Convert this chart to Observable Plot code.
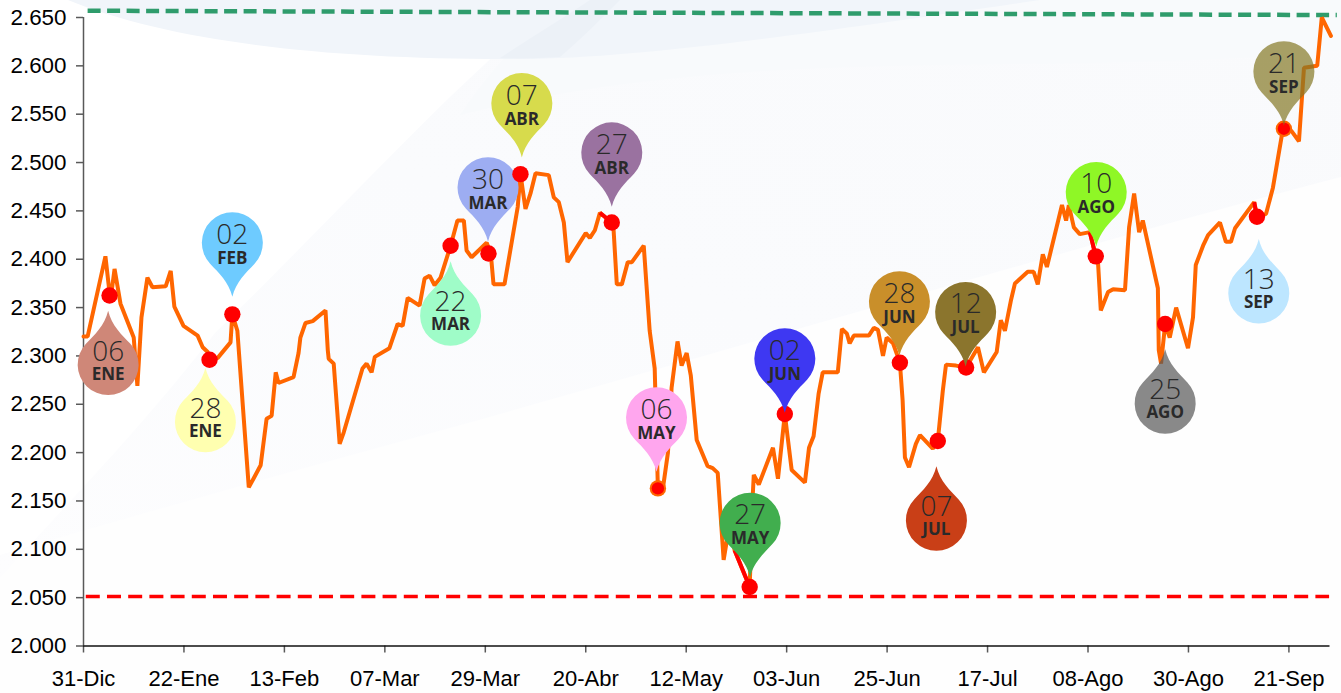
<!DOCTYPE html>
<html>
<head>
<meta charset="utf-8">
<script src="https://cdn.jsdelivr.net/npm/d3@7"></script>
<script src="https://cdn.jsdelivr.net/npm/@observablehq/plot@0.6"></script>
<style>
html,body{margin:0;padding:0;background:#fff;overflow:hidden}
#chart{position:relative;width:1341px;height:693px;
background-repeat:no-repeat;background-size:1341px 693px}
#chart svg{position:absolute;left:0;top:0;background:transparent}
</style>
</head>
<body>
<div id="chart"></div>
<script>
// Days elapsed since 31-Dic, and the exchange rate (thousands) on each vertex
const seriesDays = [0,0.9,4.8,5.9,6.8,8.1,11,11.8,12.7,14,15.1,18,19.1,19.9,21.9,25,26.1,27.2,27.6,29.4,32.2,32.6,33.7,36.2,38.8,40.1,41.2,42.1,42.7,46,47.1,47.5,48.6,50.2,53,53.5,53.7,54.8,56.1,57,61.1,62,63.1,63.8,67,68.8,69.9,71,73.6,74.7,75.8,76.9,78.2,80.4,81.9,83.3,83.9,85,88.3,89.2,89.8,92.2,95.1,95.7,96.8,97.9,99,101.9,103,104.1,105.2,106,110,110.9,112,113.1,115.7,116.1,116.8,117.9,119.2,120.1,122.7,124,125.1,125.8,126.9,128,128.8,130.1,131,132.1,133,134.3,136.7,137.8,138.9,140.2,140.9,141.8,142.6,145.9,146.6,146.8,147.9,151,152.1,153.6,155.1,158,158.9,159.9,161,161.9,165.2,166.1,167.2,167.8,168.7,172,173.1,174,175.1,175.9,177.3,178.8,179.4,179.9,180.8,182.3,183.2,186,187.1,188.2,188.9,191.1,193.3,195.9,197.2,200,200.9,201.8,203.1,204,206.8,208.1,209,210.1,211,214.3,215.2,215.8,216.9,218.2,220.4,221.7,222.2,222.8,224.4,225.5,228.1,229,230.1,231.2,232,235.3,235.5,236,236.9,237.9,239.3,241.9,243,243.6,245.2,246.3,248.9,250.2,251.3,252.2,256.4,257,259,260.5,262.7,264.5,266.2,267.3,270.2,271.2,273.2];
const seriesValues = [2.320,2.320,2.403,2.357,2.390,2.354,2.319,2.269,2.340,2.381,2.371,2.372,2.388,2.351,2.331,2.321,2.309,2.304,2.295,2.298,2.314,2.343,2.326,2.164,2.187,2.235,2.238,2.283,2.272,2.278,2.303,2.319,2.334,2.336,2.347,2.306,2.297,2.292,2.209,2.221,2.287,2.292,2.283,2.299,2.308,2.333,2.331,2.360,2.352,2.380,2.383,2.373,2.381,2.414,2.440,2.440,2.409,2.402,2.417,2.406,2.374,2.374,2.454,2.488,2.452,2.468,2.489,2.487,2.464,2.459,2.438,2.397,2.427,2.422,2.430,2.448,2.438,2.430,2.374,2.374,2.397,2.397,2.414,2.326,2.287,2.163,2.163,2.200,2.267,2.315,2.290,2.303,2.280,2.213,2.186,2.184,2.179,2.089,2.109,2.120,2.099,2.061,2.158,2.177,2.167,2.205,2.173,2.240,2.182,2.169,2.205,2.217,2.261,2.283,2.283,2.328,2.323,2.313,2.321,2.321,2.329,2.327,2.300,2.319,2.313,2.293,2.254,2.195,2.185,2.209,2.218,2.204,2.212,2.264,2.291,2.290,2.288,2.309,2.283,2.304,2.337,2.326,2.357,2.375,2.387,2.387,2.374,2.405,2.392,2.456,2.440,2.456,2.433,2.426,2.428,2.403,2.396,2.347,2.366,2.369,2.368,2.433,2.468,2.428,2.440,2.370,2.306,2.292,2.333,2.319,2.350,2.308,2.340,2.394,2.414,2.425,2.438,2.418,2.418,2.432,2.459,2.444,2.447,2.474,2.535,2.533,2.522,2.598,2.600,2.650,2.631];

// The days on which the segment arriving at a highlighted point is red
const redSegmentEnds = [115.7,145.9,221.7,257];

// Highlighted points
const pinDays  = ["06","28","02","22","30","07","27","06","27","02","28","07","12","10","25","13","21"];
const pinMonths = ["ENE","ENE","FEB","MAR","MAR","ABR","ABR","MAY","MAY","JUN","JUN","JUL","JUL","AGO","AGO","SEP","SEP"];
const pointDays   = [5.7,27.6,32.6,80.4,88.7,95.7,115.7,125.8,145.9,153.6,178.8,187.1,193.3,221.7,236.9,257,262.9];
const pointValues = [2.3625,2.296,2.343,2.414,2.406,2.488,2.438,2.163,2.061,2.240,2.293,2.212,2.288,2.403,2.333,2.444,2.535];
const ringed = ["06 MAY","21 SEP"];

// Balloons
const pinX = [5.4,26.7,32.6,80.4,88.6,96,115.7,125.5,146,153.6,178.7,186.8,193.2,221.8,236.9,257.4,262.9];
const pinY = [2.291,2.232,2.417,2.342,2.474,2.561,2.510,2.236,2.127,2.297,2.356,2.130,2.345,2.469,2.251,2.365,2.594];
const pinPoints = ["up","up","down","up","down","down","down","down","down","down","down","up","down","down","up","up","down"];
const pinColors = ["#cf8778","#ffffb0","#6ecbff","#9ffcc8","#9dadf2","#d7db4c","#9a72a0","#ffa6ee","#41ae4e","#3e38f2","#c98f2a","#c93f17","#8b752d","#8ff726","#575757","#bde6ff","#857725"];
const pinOpacity = [1,1,1,1,1,1,1,1,1,1,1,1,1,1,.7,1,.7];

// Max and min reference lines
const maxDays = [0.9,274.5], maxValues = [2.657,2.6525];
const minDays = [0.5,272.8], minValue = 2.0512;

// Axes
const tickDays = [0,22,44,66,88,110,132,154,176,198,220,242,264];
const tickLabels = ["31-Dic","22-Ene","13-Feb","07-Mar","29-Mar","20-Abr","12-May","03-Jun","25-Jun","17-Jul","08-Ago","30-Ago","21-Sep"];
const yTicks = [2,2.05,2.1,2.15,2.2,2.25,2.3,2.35,2.4,2.45,2.5,2.55,2.6,2.65];

const series = seriesDays.map((d,i)=>({d,v:seriesValues[i]}));
const redSegments = redSegmentEnds.map(e=>{
  const i = seriesDays.indexOf(e);
  return {x1:seriesDays[i-1],y1:seriesValues[i-1],x2:e,y2:seriesValues[i]};
});
const pins = pinDays.map((day,i)=>({
  day, month:pinMonths[i], key:day+" "+pinMonths[i],
  px:pointDays[i], py:pointValues[i],
  x:pinX[i], y:pinY[i], dir:pinPoints[i], color:pinColors[i], op:pinOpacity[i]
}));

// Balloon outline: a round head that narrows into a point
function drop(sign){
  return {draw(c,size){
    const r=Math.sqrt(size/Math.PI), t=54*sign, s=sign;
    const a=Math.PI*0.24;
    const jx=r*Math.cos(a), jy=r*Math.sin(a)*s;
    c.moveTo(0,t);
    c.bezierCurveTo(-3.5,t-15*s,-jx*0.62,jy+9*s,-jx,jy);
    c.arc(0,0,r,s>0?Math.PI-a:Math.PI+a,s>0?2*Math.PI+a:-a,s<0);
    c.bezierCurveTo(jx*0.62,jy+9*s,3.5,t-15*s,0,t);
    c.closePath();
  }};
}
const pinMark = (data,dir)=>Plot.dot(data.filter(p=>p.dir===dir),{
  x:"x",y:"y",r:30.5,symbol:drop(dir==="down"?1:-1),
  fill:"color",fillOpacity:"op",stroke:"none"
});
const labelOpts = (dy,font,size,weight,text)=>({
  x:"x",y:"y",text,dy,fontFamily:font,fontSize:size,fontWeight:weight,fill:"#2a2a2a",textAnchor:"middle",lineAnchor:"middle"
});
const FONT='"Open Sans"';
const bg = `<svg xmlns="http://www.w3.org/2000/svg" width="1341" height="693">
<defs><linearGradient id="w" x1="0" y1="1" x2="1" y2="0"><stop offset="0" stop-color="#fdfdfe"/><stop offset=".5" stop-color="#fafbfd"/><stop offset="1" stop-color="#f9fafc"/></linearGradient></defs>
<rect width="1341" height="693" fill="#fff"/>
<path d="M0,693 L0,555 C120,520 260,480 450,428 C800,330 1100,240 1341,177 L1341,693Z" fill="#fefefe"/>
<path d="M0,578 C70,500 140,430 215,333 C300,250 380,165 450,97 C490,60 520,30 555,0 L1341,0 L1341,177 C1100,240 800,330 450,428 C260,480 120,520 0,555Z" fill="url(#w)"/>
<path d="M460,115 C760,40 1050,80 1341,50 L1341,0 L560,0 C520,40 490,70 460,115Z" fill="#f8fafc"/>
<path d="M68,0 C170,42 330,60 520,59 C640,58 800,35 1040,0Z" fill="#f1f5fa"/>
<path d="M500,58 C530,38 560,20 590,0 L620,0 C600,20 580,40 560,57 C540,58 520,59 500,58Z" fill="#ecf1f7"/>
</svg>`;
document.getElementById("chart").style.backgroundImage = "url('data:image/svg+xml;utf8,"+encodeURIComponent(bg)+"')";

const plot = Plot.plot({
  width:1341,height:693,
  marginLeft:83,marginRight:11.5,marginTop:17,marginBottom:47.5,
  style:{background:"transparent",fontFamily:"'Liberation Sans'",overflow:"visible"},
  x:{type:"linear",domain:[0,273],range:[83,1329.5]},
  y:{type:"linear",domain:[2,2.65]},
  marks:[
    Plot.axisY({ticks:yTicks,tickFormat:d3.format(".3f"),fontSize:22.4,tickSize:7,tickPadding:10,stroke:"#595959",strokeWidth:1.5,fill:"#000",label:null}),
    Plot.axisX({ticks:tickDays,tickFormat:d=>tickLabels[tickDays.indexOf(d)],fontSize:22,tickSize:7,tickPadding:17,stroke:"#595959",strokeWidth:1.5,fill:"#000",label:null}),
    Plot.ruleX([0],{y1:2,y2:2.65,stroke:"#595959",strokeWidth:1.5}),
    Plot.ruleY([2],{x1:0,x2:273,stroke:"#111",strokeWidth:1.5}),
    Plot.line(maxDays.map((d,i)=>({d,v:maxValues[i]})),{x:"d",y:"v",stroke:"#2f9c6c",strokeWidth:4.5,strokeDasharray:"13 6.5",strokeLinecap:"butt"}),
    Plot.line(minDays.map(d=>({d,v:minValue})),{x:"d",y:"v",stroke:"#ff0000",strokeWidth:3.4,strokeDasharray:"14 7.2",strokeLinecap:"butt"}),
    Plot.line(series,{x:"d",y:"v",stroke:"#ff6600",strokeWidth:4,strokeLinejoin:"bevel",curve:"linear"}),
    Plot.link(redSegments,{x1:"x1",y1:"y1",x2:"x2",y2:"y2",stroke:"#ff0000",strokeWidth:4}),
    pinMark(pins.filter(p=>p.key==="30 MAR"),"down"),
    Plot.dot(pins.filter(p=>ringed.includes(p.key)),{x:"px",y:"py",r:8.2,fill:"#ff6600",stroke:"none"}),
    Plot.dot(pins.filter(p=>!ringed.includes(p.key)),{x:"px",y:"py",r:8.2,fill:"#ff0000",stroke:"none"}),
    Plot.dot(pins.filter(p=>ringed.includes(p.key)),{x:"px",y:"py",r:6.2,fill:"#ff0000",stroke:"none"}),
    pinMark(pins.filter(p=>p.key!=="30 MAR"),"down"),
    pinMark(pins,"up"),
    Plot.text(pins.filter(p=>p.dir==="down"),labelOpts(-8,FONT,28,300,"day")),
    Plot.text(pins.filter(p=>p.dir==="down"),labelOpts(15.5,FONT,17,700,"month")),
    Plot.text(pins.filter(p=>p.dir==="up"),labelOpts(-13,FONT,28,300,"day")),
    Plot.text(pins.filter(p=>p.dir==="up"),labelOpts(9.5,FONT,17,700,"month"))
  ]
});
document.getElementById("chart").appendChild(plot);
</script>
</body>
</html>
